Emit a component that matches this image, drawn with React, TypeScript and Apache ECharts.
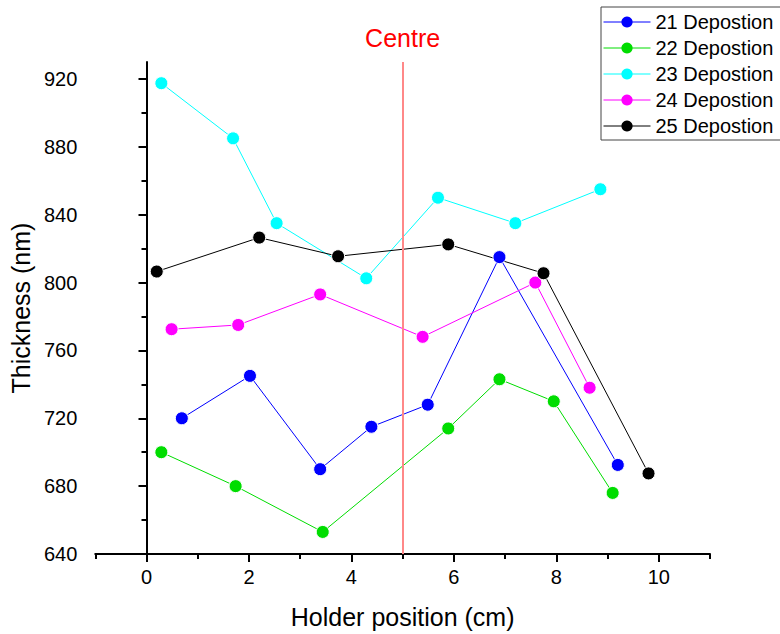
import React, { useEffect, useRef } from "react";
import * as echarts from "echarts";

const FONT = '"Liberation Sans", Arial, Helvetica, sans-serif';

const seriesNames = ["21 Depostion", "22 Depostion", "23 Depostion", "24 Depostion", "25 Depostion"];
const seriesColors = ["#0000ff", "#00dd00", "#00ffff", "#ff00ff", "#000000"];

const dep21: [number, number][] = [[0.69, 720], [2.02, 745], [3.39, 690], [4.39, 715], [5.49, 728], [6.89, 815], [9.2, 692.5]];
const dep22: [number, number][] = [[0.29, 700], [1.74, 680], [3.44, 653], [5.89, 714], [6.89, 743], [7.95, 730], [9.1, 676]];
const dep23: [number, number][] = [[0.29, 917.5], [1.69, 885], [2.54, 835], [4.29, 802.5], [5.69, 850], [7.2, 835], [8.86, 855]];
const dep24: [number, number][] = [[0.49, 772.5], [1.79, 775], [3.39, 793], [5.39, 768], [7.59, 800], [8.65, 738]];
const dep25: [number, number][] = [[0.2, 806.5], [2.2, 826.5], [3.74, 815.5], [5.89, 822.5], [7.75, 805.5], [9.8, 687.5]];
const allData = [dep21, dep22, dep23, dep24, dep25];

const xLabels = [0, 2, 4, 6, 8, 10];
const xMinorTicks = [-1, 1, 3, 5, 7, 9, 11];
const yLabels = [640, 680, 720, 760, 800, 840, 880, 920];
const yMinorTicks = [660, 700, 740, 780, 820, 860, 900];
const centrePosition = 5;
const centreLabel = "Centre";

export default function App() {
  const ref = useRef<HTMLDivElement>(null);
  useEffect(() => {
    document.body.style.margin = "0";
    if (!ref.current) return;
    const chart = echarts.init(ref.current, null, { renderer: "svg" });
    const axisLine = { show: true, lineStyle: { color: "#000", width: 2 } };
    const series: any[] = allData.map((d, i) => ({
      name: seriesNames[i],
      type: "line",
      data: d,
      xAxisIndex: 0,
      yAxisIndex: 0,
      symbol: "circle",
      symbolSize: 13,
      lineStyle: { width: 1, color: seriesColors[i] },
      itemStyle: { color: seriesColors[i], borderColor: "#fff", borderWidth: 1 },
      z: 3,
    }));
    series[0].markLine = {
      silent: true,
      symbol: ["none", "none"],
      lineStyle: { color: "#ff8888", width: 2, type: "solid" },
      label: {
        show: true,
        position: "end",
        formatter: centreLabel,
        color: "#ff0000",
        fontSize: 25,
        fontFamily: FONT,
        distance: 12,
      },
      data: [{ xAxis: centrePosition }],
      z: 5,
    };
    chart.setOption({
      animation: false,
      backgroundColor: "#fff",
      grid: { left: 95, right: 70, top: 62, bottom: 79, containLabel: false },
      legend: {
        orient: "vertical",
        left: 601,
        top: 7,
        itemWidth: 47,
        itemHeight: 14,
        itemGap: 6,
        padding: [5, 40, 4, 2],
        borderColor: "#444",
        borderWidth: 1,
        lineStyle: { width: 1 },
        itemStyle: { borderWidth: 0 },
        textStyle: { fontSize: 20, color: "#000", fontFamily: FONT },
        data: seriesNames,
      },
      xAxis: [
        {
          type: "value",
          min: -1,
          max: 11,
          position: "bottom",
          axisLine,
          axisTick: { show: true, length: 8, lineStyle: { color: "#000", width: 2 }, customValues: xLabels },
          axisLabel: { customValues: xLabels, fontSize: 20, color: "#000", margin: 13, fontFamily: FONT },
          splitLine: { show: false },
          name: "Holder position (cm)",
          nameLocation: "middle",
          nameGap: 50,
          nameTextStyle: { fontSize: 25, color: "#000", fontFamily: FONT },
        },
        {
          type: "value",
          min: -1,
          max: 11,
          position: "bottom",
          axisLine: { show: false },
          axisTick: { show: true, length: 5, lineStyle: { color: "#000", width: 2 }, customValues: xMinorTicks },
          axisLabel: { show: false },
          splitLine: { show: false },
        },
      ],
      yAxis: [
        {
          type: "value",
          min: 640,
          max: 930,
          position: "left",
          axisLine,
          axisTick: { show: true, length: 8, lineStyle: { color: "#000", width: 2 }, customValues: yLabels },
          axisLabel: { customValues: yLabels, fontSize: 20, color: "#000", margin: 18, fontFamily: FONT },
          splitLine: { show: false },
          name: "Thickness (nm)",
          nameLocation: "middle",
          nameGap: 55,
          nameTextStyle: { fontSize: 25, color: "#000", fontFamily: FONT },
        },
        {
          type: "value",
          min: 640,
          max: 930,
          position: "left",
          axisLine: { show: false },
          axisTick: { show: true, length: 5, lineStyle: { color: "#000", width: 2 }, customValues: yMinorTicks },
          axisLabel: { show: false },
          splitLine: { show: false },
        },
      ],
      series,
    });
    return () => chart.dispose();
  }, []);
  return <div ref={ref} style={{ width: 780, height: 634 }} />;
}
